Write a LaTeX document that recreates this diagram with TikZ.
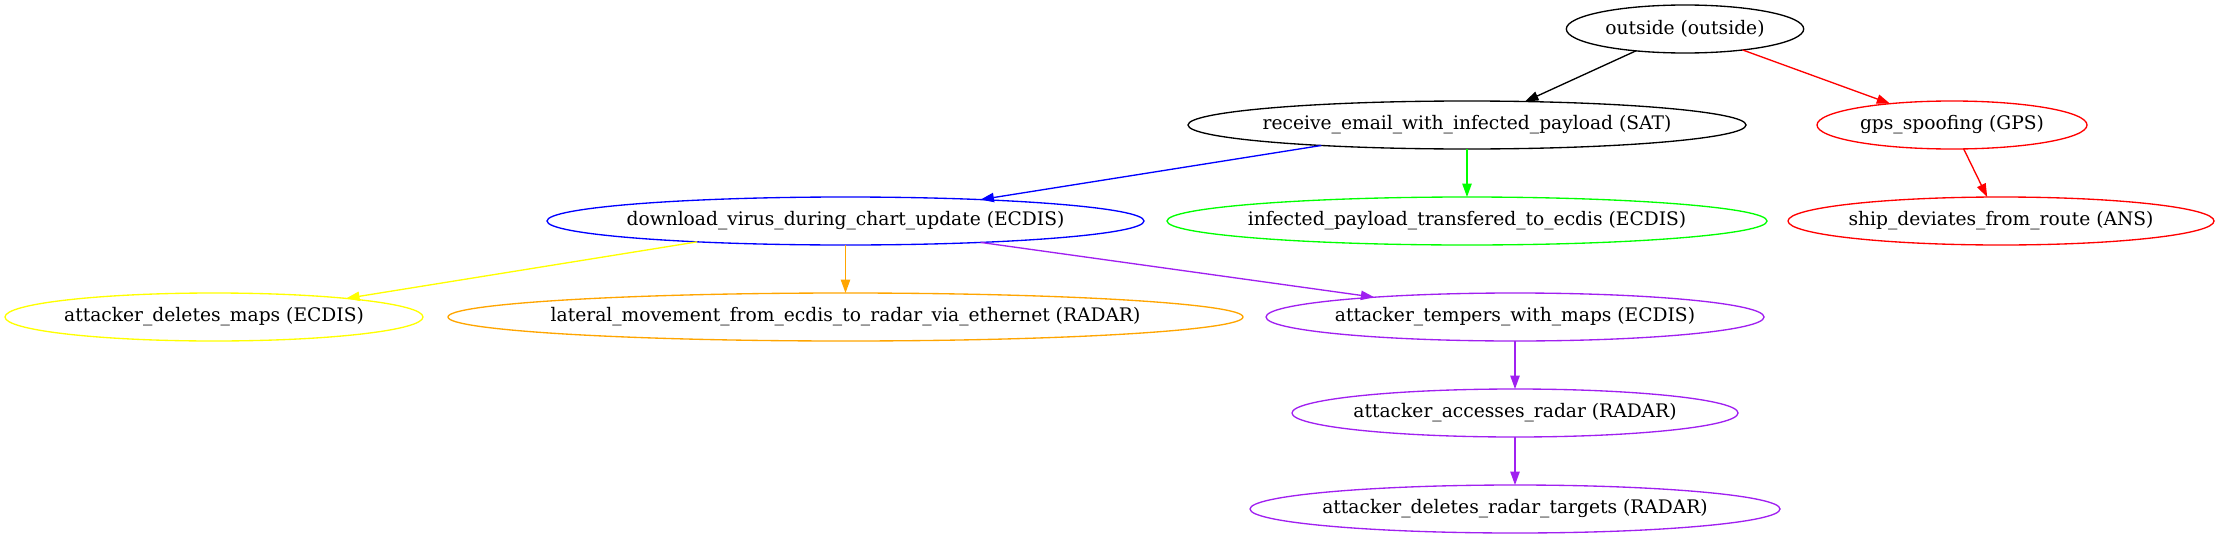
\documentclass[tikz,border=0pt]{standalone}
\usepackage{fontspec}
\setmainfont{DejaVu Serif}
\usetikzlibrary{shapes.geometric,arrows.meta}
\definecolor{gvpurple}{HTML}{A020F0}
\definecolor{gvorange}{HTML}{FFA500}
\definecolor{gvgreen}{HTML}{00FF00}
\definecolor{gvyellow}{HTML}{FFFF00}
\newcommand{\gvlbl}[1]{\makebox[0pt][c]{#1}}
\tikzset{
  gnode/.style={ellipse, draw, line width=1pt, inner sep=0pt, outer sep=0pt,
    minimum height=36pt, font=\fontsize{14}{16}\selectfont},
  gedge/.style={-{Triangle[length=10pt,width=7pt]}, line width=1pt},
}
\begin{document}
\begin{tikzpicture}[x=0.75pt,y=-0.75pt]
\useasboundingbox (0,0) rectangle (2219,539);
\node[gnode, minimum width=178pt] (outside) at (1685,29) {\gvlbl{outside (outside)}};
\node[gnode, minimum width=418.5pt] (receive) at (1467,125) {\gvlbl{receive\_email\_with\_infected\_payload (SAT)}};
\node[gnode, red, text=black, minimum width=202.5pt] (gps) at (1952,125) {\gvlbl{gps\_spoofing (GPS)}};
\node[gnode, blue, text=black, minimum width=447.75pt] (download) at (845.5,221) {\gvlbl{download\_virus\_during\_chart\_update (ECDIS)}};
\node[gnode, gvgreen, text=black, minimum width=450pt] (infected) at (1467,221) {\gvlbl{infected\_payload\_transfered\_to\_ecdis (ECDIS)}};
\node[gnode, red, text=black, minimum width=319.5pt] (ship) at (2001,221) {\gvlbl{ship\_deviates\_from\_route (ANS)}};
\node[gnode, gvyellow, text=black, minimum width=313.5pt] (delmaps) at (214,317) {\gvlbl{attacker\_deletes\_maps (ECDIS)}};
\node[gnode, gvorange, text=black, minimum width=596.25pt] (lateral) at (845.5,317) {\gvlbl{lateral\_movement\_from\_ecdis\_to\_radar\_via\_ethernet (RADAR)}};
\node[gnode, gvpurple, text=black, minimum width=373.5pt] (tempers) at (1515,317) {\gvlbl{attacker\_tempers\_with\_maps (ECDIS)}};
\node[gnode, gvpurple, text=black, minimum width=334.5pt] (accesses) at (1515,413) {\gvlbl{attacker\_accesses\_radar (RADAR)}};
\node[gnode, gvpurple, text=black, minimum width=397.5pt] (delradar) at (1515,509) {\gvlbl{attacker\_deletes\_radar\_targets (RADAR)}};

\draw[gedge, black] (outside.204.4) -- (receive.22.6);
\draw[gedge, red] (outside.340) -- (gps.161);
\draw[gedge, red] (gps.296.7) -- (ship.120.3);
\draw[gedge, blue] (receive.188.9) -- (download.9.05);
\draw[gedge, gvgreen] (receive.south) -- (infected.north);
\draw[gedge, gvyellow] (download.188.8) -- (delmaps.8.7);
\draw[gedge, gvorange] (download.south) -- (lateral.north);
\draw[gedge, gvpurple] (download.351.7) -- (tempers.172);
\draw[gedge, gvpurple] (tempers.south) -- (accesses.north);
\draw[gedge, gvpurple] (accesses.south) -- (delradar.north);
\end{tikzpicture}
\end{document}
